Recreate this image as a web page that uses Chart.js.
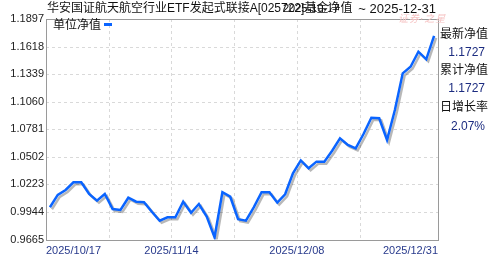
<!DOCTYPE html>
<html>
<head>
<meta charset="utf-8">
<script src="https://cdn.jsdelivr.net/npm/chart.js@4/dist/chart.umd.min.js"></script>
<style>
  body { margin: 0; background: #fff; }
  #wrap { position: relative; width: 488px; height: 255px; overflow: hidden; font-family: "Liberation Sans", Arial, sans-serif; }
  #wrap span { position: absolute; white-space: nowrap; line-height: 1; }
  .cjk { font-family: "Liberation Sans", "Noto Sans CJK SC", sans-serif; }
</style>
</head>
<body>
<div id="wrap">
  <canvas id="myChart" width="488" height="255"></canvas>
  <span class="cjk" style="left:47px;top:2px;font-size:12px;color:#111">华安国证航天航空行业ETF发起式联接A[025722]基金净值</span>
  <span id="rangeStart" style="left:283px;top:3px;font-size:11px;color:#111"></span>
  <span id="rangeEnd" style="right:52px;top:2px;font-size:13px;color:#111"></span>
  <span class="cjk" style="left:398px;top:14px;font-size:10px;font-style:italic;color:#f6c4c4;letter-spacing:1px">证券·之星</span>
  <span class="cjk" style="left:53px;top:19px;font-size:12px;color:#111">单位净值</span>
  <span style="left:104px;top:23px;width:8px;height:3px;background:#0a64ff"></span>
  <span class="cjk" style="left:440px;top:28px;font-size:12px;color:#111">最新净值</span>
  <span id="latest" style="right:3px;top:46px;font-size:12px;color:#1c2c80"></span>
  <span class="cjk" style="left:440px;top:64px;font-size:12px;color:#111">累计净值</span>
  <span id="accum" style="right:3px;top:82px;font-size:12px;color:#1c2c80"></span>
  <span class="cjk" style="left:440px;top:101px;font-size:12px;color:#111">日增长率</span>
  <span id="growth" style="right:3px;top:120px;font-size:12px;color:#1c2c80"></span>
</div>
<script>
"use strict"

// trading days shown in the chart
let dates = [
    "2025/10/23", "2025/10/24", "2025/10/27", "2025/10/28", "2025/10/29", "2025/10/30", "2025/10/31",
    "2025/11/03", "2025/11/04", "2025/11/05", "2025/11/06", "2025/11/07",
    "2025/11/10", "2025/11/11", "2025/11/12", "2025/11/13", "2025/11/14",
    "2025/11/17", "2025/11/18", "2025/11/19", "2025/11/20", "2025/11/21",
    "2025/11/24", "2025/11/25", "2025/11/26", "2025/11/27", "2025/11/28",
    "2025/12/01", "2025/12/02", "2025/12/03", "2025/12/04", "2025/12/05",
    "2025/12/08", "2025/12/09", "2025/12/10", "2025/12/11", "2025/12/12",
    "2025/12/15", "2025/12/16", "2025/12/17", "2025/12/18", "2025/12/19",
    "2025/12/22", "2025/12/23", "2025/12/24", "2025/12/25", "2025/12/26",
    "2025/12/29", "2025/12/30", "2025/12/31"
];

// 单位净值
let navValues = [
    0.9991, 1.0116, 1.0166, 1.0244, 1.0244, 1.0126, 1.0058,
    1.0126, 0.9974, 0.9964, 1.0088, 1.0048,
    1.0042, 0.9946, 0.9855, 0.9890, 0.9890,
    1.0048, 0.9936, 1.0024, 0.9896, 0.9687,
    1.0143, 1.0098, 0.9870, 0.9855, 0.9991,
    1.0143, 1.0143, 1.0038, 1.0123, 1.0335,
    1.0465, 1.0386, 1.0453, 1.0453, 1.0563,
    1.0689, 1.0622, 1.0588, 1.0733, 1.0898,
    1.0892, 1.0672, 1.0976, 1.1347, 1.1414,
    1.1566, 1.1489, 1.1727
];

let yTicks = [0.9665, 0.9944, 1.0223, 1.0502, 1.0781, 1.1060, 1.1339, 1.1618, 1.1897];

// x grid every 8 trading days, labels on some of them
let xTickLabels = ["2025/10/17", "", "2025/11/14", "", "2025/12/08", "", "2025/12/31"];

let rangeFrom = "2025-10-17";
let rangeTo = "~ 2025-12-31";
let latestNav = "1.1727";
let accumNav = "1.1727";
let dayGrowth = "2.07%";

document.getElementById("rangeStart").textContent = rangeFrom;
document.getElementById("rangeEnd").textContent = rangeTo;
document.getElementById("latest").textContent = latestNav;
document.getElementById("accum").textContent = accumNav;
document.getElementById("growth").textContent = dayGrowth;

let points = [];
for (let i = 0; i < navValues.length; i++) {
    points.push({ x: i, y: navValues[i] });
}

let xTickValues = [];
for (let i = 0; i < xTickLabels.length - 1; i++) {
    xTickValues.push(i * 8 - 0.5);
}
xTickValues.push(dates.length - 0.5);

// dashed grid, drawn under the line
const gridPlugin = {
    id: "dashGrid",
    beforeDatasetsDraw(chart) {
        const a = chart.chartArea;
        const ctx = chart.ctx;
        const xs = chart.scales.x;
        const ys = chart.scales.y;
        ctx.save();
        ctx.strokeStyle = "#d9d9d9";
        ctx.lineWidth = 1;
        ctx.setLineDash([3, 3]);
        ctx.beginPath();
        for (let i = 1; i < xTickValues.length - 1; i++) {
            let px = Math.round(xs.getPixelForValue(xTickValues[i])) + 0.5;
            ctx.moveTo(px, a.top);
            ctx.lineTo(px, a.bottom);
        }
        for (let i = 1; i < yTicks.length - 1; i++) {
            let py = Math.round(ys.getPixelForValue(yTicks[i])) + 0.5;
            ctx.moveTo(a.left, py);
            ctx.lineTo(a.right, py);
        }
        ctx.stroke();
        ctx.restore();
    }
};

// gray drop shadow under the line
const shadowPlugin = {
    id: "shadow",
    beforeDatasetDraw(chart) {
        const ctx = chart.ctx;
        ctx.save();
        ctx.shadowColor = "rgba(0,0,0,0.28)";
        ctx.shadowOffsetX = 2;
        ctx.shadowOffsetY = 2;
        ctx.shadowBlur = 0;
    },
    afterDatasetDraw(chart) {
        chart.ctx.restore();
    }
};

// box round the plot area
const framePlugin = {
    id: "frame",
    afterDraw(chart) {
        const a = chart.chartArea;
        const ctx = chart.ctx;
        ctx.save();
        ctx.strokeStyle = "#9a9a9a";
        ctx.lineWidth = 1;
        ctx.strokeRect(Math.round(a.left) + 0.5, Math.round(a.top) + 0.5,
            Math.round(a.right - a.left), Math.round(a.bottom - a.top));
        ctx.restore();
    }
};

const ctx = document.getElementById("myChart").getContext("2d");
const myChart = new Chart(ctx, {
    type: "line",
    data: {
        datasets: [
            {
                label: "单位净值",
                data: points,
                borderColor: "#0a64ff",
                borderWidth: 2.5,
                pointRadius: 0,
                tension: 0,
                fill: false
            }
        ]
    },
    options: {
        responsive: false,
        animation: false,
        devicePixelRatio: 1,
        layout: { padding: { left: 0, right: 50, top: 19, bottom: 0 } },
        plugins: {
            legend: { display: false },
            tooltip: { enabled: false }
        },
        scales: {
            x: {
                type: "linear",
                min: -0.5,
                max: dates.length - 0.5,
                afterBuildTicks(scale) {
                    scale.ticks = xTickValues.map(v => ({ value: v }));
                },
                afterFit(scale) {
                    scale.height = 15.5;
                },
                grid: { display: false, drawTicks: false },
                border: { display: false },
                ticks: {
                    autoSkip: false,
                    maxRotation: 0,
                    align: "inner",
                    padding: 5,
                    color: "#283a8c",
                    font: { family: "Liberation Sans", size: 11 },
                    callback(value, index) {
                        return xTickLabels[index];
                    }
                }
            },
            y: {
                min: yTicks[0],
                max: yTicks[yTicks.length - 1],
                afterBuildTicks(scale) {
                    scale.ticks = yTicks.map(v => ({ value: v }));
                },
                afterFit(scale) {
                    scale.width = 46;
                },
                grid: { display: false, drawTicks: false },
                border: { display: false },
                ticks: {
                    padding: 2,
                    color: "#222222",
                    font: { family: "Liberation Sans", size: 11 },
                    callback(value) {
                        return Number(value).toFixed(4);
                    }
                }
            }
        }
    },
    plugins: [gridPlugin, shadowPlugin, framePlugin]
});
</script>
</body>
</html>
